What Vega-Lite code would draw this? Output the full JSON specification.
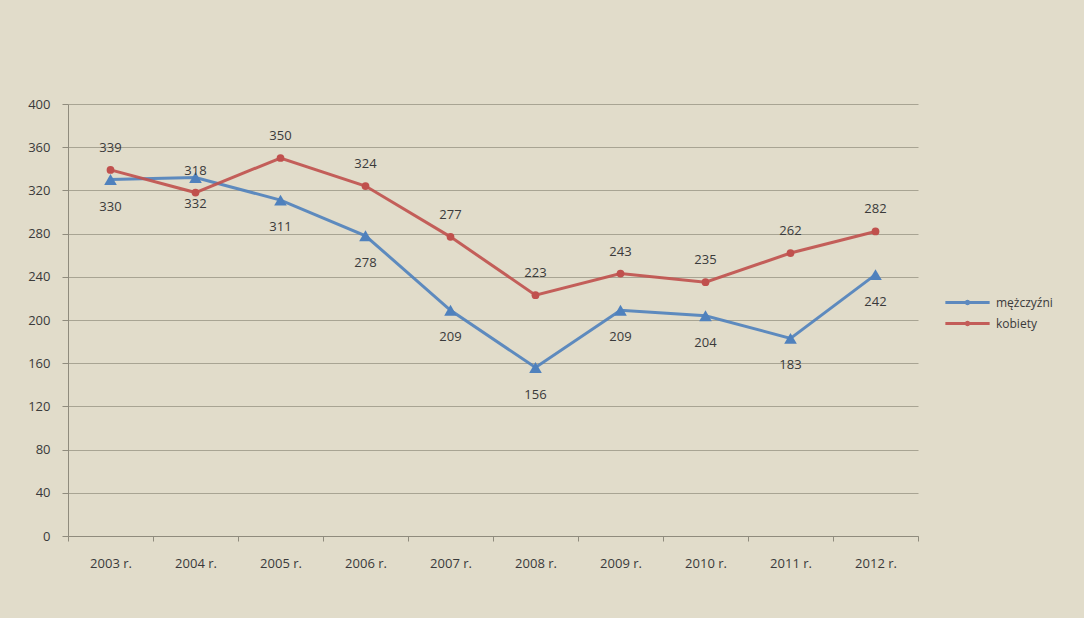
{
  "$schema": "https://vega.github.io/schema/vega-lite/v6.json",
  "width": 850,
  "height": 432,
  "autosize": {"type": "none"},
  "padding": {"left": 68, "top": 104, "right": 166, "bottom": 82},
  "background": "#e1dcca",
  "config": {
    "font": "Open Sans",
    "view": {"stroke": null},
    "axis": {"labelFont": "Open Sans", "labelFontSize": 13, "labelColor": "#3a3a3a"}
  },
  "data": {
    "values": [
      {"rok": "2003 r.", "seria": "mężczyźni", "wartosc": 330},
      {"rok": "2004 r.", "seria": "mężczyźni", "wartosc": 332},
      {"rok": "2005 r.", "seria": "mężczyźni", "wartosc": 311},
      {"rok": "2006 r.", "seria": "mężczyźni", "wartosc": 278},
      {"rok": "2007 r.", "seria": "mężczyźni", "wartosc": 209},
      {"rok": "2008 r.", "seria": "mężczyźni", "wartosc": 156},
      {"rok": "2009 r.", "seria": "mężczyźni", "wartosc": 209},
      {"rok": "2010 r.", "seria": "mężczyźni", "wartosc": 204},
      {"rok": "2011 r.", "seria": "mężczyźni", "wartosc": 183},
      {"rok": "2012 r.", "seria": "mężczyźni", "wartosc": 242},
      {"rok": "2003 r.", "seria": "kobiety", "wartosc": 339},
      {"rok": "2004 r.", "seria": "kobiety", "wartosc": 318},
      {"rok": "2005 r.", "seria": "kobiety", "wartosc": 350},
      {"rok": "2006 r.", "seria": "kobiety", "wartosc": 324},
      {"rok": "2007 r.", "seria": "kobiety", "wartosc": 277},
      {"rok": "2008 r.", "seria": "kobiety", "wartosc": 223},
      {"rok": "2009 r.", "seria": "kobiety", "wartosc": 243},
      {"rok": "2010 r.", "seria": "kobiety", "wartosc": 235},
      {"rok": "2011 r.", "seria": "kobiety", "wartosc": 262},
      {"rok": "2012 r.", "seria": "kobiety", "wartosc": 282}
    ]
  },
  "encoding": {
    "x": {
      "field": "rok", "type": "ordinal", "title": null,
      "scale": {"type": "band", "paddingInner": 0, "paddingOuter": 0},
      "axis": {"labelAngle": 0, "tickBand": "extent", "domainColor": "#8f8b7d", "tickColor": "#8f8b7d", "tickSize": 5, "labelPadding": 16, "grid": false}
    },
    "y": {
      "field": "wartosc", "type": "quantitative", "title": null,
      "scale": {"domain": [0, 400], "nice": false},
      "axis": {"values": [0, 40, 80, 120, 160, 200, 240, 280, 320, 360, 400], "gridColor": "#a8a493", "gridWidth": 1, "domainColor": "#8f8b7d", "tickColor": "#8f8b7d", "tickSize": 6, "labelPadding": 12}
    }
  },
  "layer": [
    {
      "mark": {"type": "line", "strokeWidth": 3, "opacity": 0.9},
      "encoding": {
        "color": {
          "field": "seria", "type": "nominal",
          "scale": {"domain": ["mężczyźni", "kobiety"], "range": ["#4f81bd", "#c0504d"]},
          "legend": {
            "title": null, "orient": "none", "legendX": 890, "legendY": 189,
            "labelFont": "Open Sans", "labelFontSize": 12, "labelColor": "#3a3a3a",
            "symbolType": "M-2.8,0H2.8M-0.15,0A0.15,0.15,0,1,0,0.15,0A0.15,0.15,0,1,0,-0.15,0Z",
            "symbolSize": 250, "symbolStrokeWidth": 3, "rowPadding": 4, "labelOffset": 19
          }
        }
      }
    },
    {
      "transform": [{"filter": "datum.seria === 'mężczyźni'"}],
      "mark": {"type": "point", "filled": true, "opacity": 1, "shape": "triangle-up", "size": 160, "color": "#4f81bd"}
    },
    {
      "transform": [{"filter": "datum.seria === 'kobiety'"}],
      "mark": {"type": "point", "filled": true, "opacity": 1, "shape": "circle", "size": 60, "color": "#c0504d"}
    },
    {
      "transform": [{"filter": "datum.seria === 'kobiety'"}],
      "mark": {"type": "text", "dy": -22, "fontSize": 13, "color": "#3a3a3a", "font": "Open Sans"},
      "encoding": {"text": {"field": "wartosc", "type": "quantitative"}}
    },
    {
      "transform": [{"filter": "datum.seria === 'mężczyźni'"}],
      "mark": {"type": "text", "dy": 27, "fontSize": 13, "color": "#3a3a3a", "font": "Open Sans"},
      "encoding": {"text": {"field": "wartosc", "type": "quantitative"}}
    }
  ]
}
